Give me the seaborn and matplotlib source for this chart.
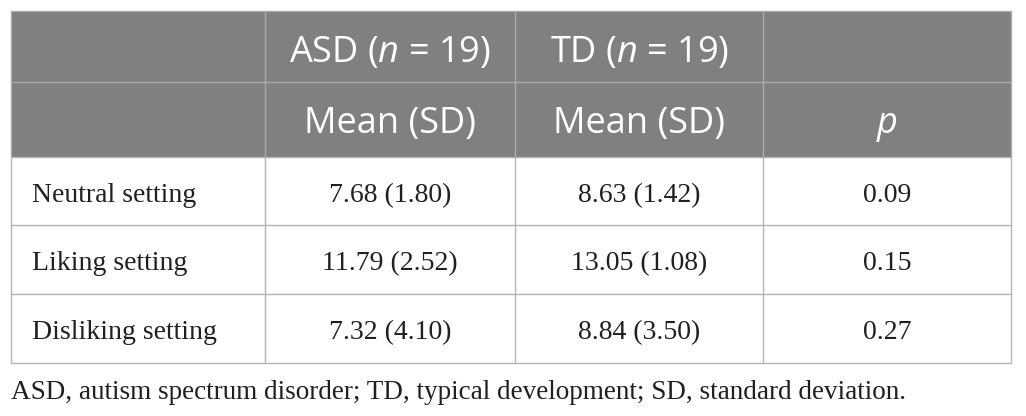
import matplotlib
matplotlib.use("Agg")
import matplotlib.pyplot as plt
import seaborn as sns
from matplotlib.patches import Rectangle

# table content
group_headers = ["", "ASD ($\\mathit{n}$ = 19)", "TD ($\\mathit{n}$ = 19)", ""]
stat_headers = ["", "Mean (SD)", "Mean (SD)", "$\\mathit{p}$"]
settings = ["Neutral setting", "Liking setting", "Disliking setting"]
asd_values = ["7.68 (1.80)", "11.79 (2.52)", "7.32 (4.10)"]
td_values = ["8.63 (1.42)", "13.05 (1.08)", "8.84 (3.50)"]
p_values = ["0.09", "0.15", "0.27"]
footnote = "ASD, autism spectrum disorder; TD, typical development; SD, standard deviation."

sns.set_style("white")
plt.rcParams["mathtext.fontset"] = "custom"
plt.rcParams["mathtext.rm"] = "Open Sans"
plt.rcParams["mathtext.it"] = "Open Sans:italic"

# layout in pixels
col_edges = [11, 265, 515, 763, 1011]
row_edges = [11, 82, 157, 225, 294, 363]
header_bg = "#808080"
header_line = "#ababab"
body_line = "#b3b3b3"
text_col = "#231f20"

fig = plt.figure(figsize=(10.26, 4.16), dpi=100)
ax = fig.add_axes([0, 0, 1, 1])
ax.set_xlim(0, 1026)
ax.set_ylim(416, 0)
ax.axis("off")

# header background
ax.add_patch(Rectangle((col_edges[0], row_edges[0]), col_edges[-1] - col_edges[0],
                       row_edges[2] - row_edges[0], facecolor=header_bg, edgecolor="none"))

# header grid lines
for y in row_edges[:2]:
    ax.plot([col_edges[0], col_edges[-1]], [y, y], color=header_line, lw=1)
for x in col_edges:
    ax.plot([x, x], [row_edges[0], row_edges[2]], color=header_line, lw=1)

# body grid lines
for y in row_edges[2:]:
    ax.plot([col_edges[0], col_edges[-1]], [y, y], color=body_line, lw=1)
for x in col_edges:
    ax.plot([x, x], [row_edges[2], row_edges[-1]], color=body_line, lw=1)

centers = [(col_edges[i] + col_edges[i + 1]) / 2 for i in range(4)]

hdr_font = dict(family="Open Sans", fontsize=26, color="white", va="baseline", ha="center")
for i, lab in enumerate(group_headers):
    if lab:
        ax.text(centers[i], row_edges[0] + 51, lab, **hdr_font)
for i, lab in enumerate(stat_headers):
    if lab:
        ax.text(centers[i], row_edges[1] + 51, lab, **hdr_font)

body_font = dict(family="Liberation Serif", fontsize=20, color=text_col, va="baseline")
for r in range(len(settings)):
    yb = row_edges[r + 2] + 45
    ax.text(col_edges[0] + 21, yb, settings[r], ha="left", **body_font)
    ax.text(centers[1], yb, asd_values[r], ha="center", **body_font)
    ax.text(centers[2], yb, td_values[r], ha="center", **body_font)
    ax.text(centers[3], yb, p_values[r], ha="center", **body_font)

ax.text(col_edges[0], 399, footnote, ha="left", family="Liberation Serif",
        fontsize=19.5, color=text_col, va="baseline")

fig.savefig("out.png", dpi=100)
